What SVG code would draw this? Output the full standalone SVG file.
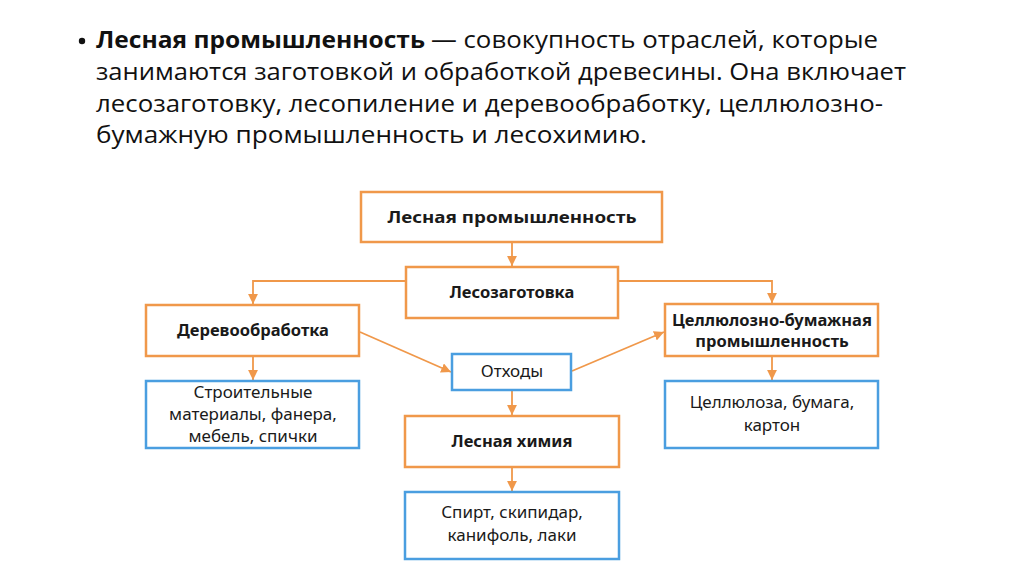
<svg xmlns="http://www.w3.org/2000/svg" width="1024" height="574" viewBox="0 0 1024 574">
<defs>
<style>
.hd{font-family:"Open Sans","Noto Sans",sans-serif;font-size:23px;fill:#111}
.hb{font-weight:bold}
.o{fill:#fff;stroke:#F0984A;stroke-width:2.5}
.b{fill:#fff;stroke:#4A9EE0;stroke-width:2.5}
.tb{font-family:"Noto Sans","Open Sans",sans-serif;font-size:16.5px;font-weight:bold;fill:#1a1a1a;text-anchor:middle}
.tr{font-family:"Noto Sans","Open Sans",sans-serif;font-size:17px;fill:#1a1a1a;text-anchor:middle}
.c{fill:none;stroke:#F0984A;stroke-width:1.8}
</style>
<marker id="ah" viewBox="0 0 10 10" refX="10" refY="5" markerWidth="5.5" markerHeight="5.5" orient="auto" markerUnits="strokeWidth">
<path d="M0,0 L10,5 L0,10 z" fill="#F0984A"/>
</marker>
</defs>
<rect width="1024" height="574" fill="#fff"/>
<g id="header">
<circle cx="82" cy="41" r="3.2" fill="#111"/>
<text class="hd hb" x="96" y="48" textLength="329" lengthAdjust="spacingAndGlyphs">Лесная промышленность</text>
<text class="hd" x="431" y="48" textLength="447" lengthAdjust="spacingAndGlyphs">— совокупность отраслей, которые</text>
<text class="hd" x="96" y="80" textLength="810" lengthAdjust="spacingAndGlyphs">занимаются заготовкой и обработкой древесины. Она включает</text>
<text class="hd" x="96" y="112" textLength="787" lengthAdjust="spacingAndGlyphs">лесозаготовку, лесопиление и деревообработку, целлюлозно-</text>
<text class="hd" x="96" y="143" textLength="551" lengthAdjust="spacingAndGlyphs">бумажную промышленность и лесохимию.</text>
</g>
<g id="connectors">
<line class="c" x1="512" y1="243" x2="512" y2="266" marker-end="url(#ah)"/>
<polyline class="c" points="406,281 253,281 253,304" marker-end="url(#ah)"/>
<polyline class="c" points="618,281 772,281 772,303" marker-end="url(#ah)"/>
<line class="c" x1="360" y1="332" x2="451" y2="372" marker-end="url(#ah)"/>
<line class="c" x1="572" y1="371" x2="664" y2="332" marker-end="url(#ah)"/>
<line class="c" x1="253" y1="357" x2="253" y2="380" marker-end="url(#ah)"/>
<line class="c" x1="512" y1="391" x2="512" y2="415" marker-end="url(#ah)"/>
<line class="c" x1="512" y1="468" x2="512" y2="491" marker-end="url(#ah)"/>
<line class="c" x1="772" y1="357" x2="772" y2="380" marker-end="url(#ah)"/>
</g>
<g id="n-les-prom">
<rect class="o" x="361" y="192" width="301" height="50"/>
<text class="tb" x="512" y="223" font-size="18" textLength="249" lengthAdjust="spacingAndGlyphs">Лесная промышленность</text>
</g>
<g id="n-lesozag">
<rect class="o" x="406" y="267" width="212" height="51"/>
<text class="tb" x="512" y="298">Лесозаготовка</text>
</g>
<g id="n-derevo">
<rect class="o" x="146" y="305" width="213" height="51"/>
<text class="tb" x="253" y="336">Деревообработка</text>
</g>
<g id="n-cbp">
<rect class="o" x="665" y="304" width="213" height="52"/>
<text class="tb" x="772" y="326">Целлюлозно-бумажная</text>
<text class="tb" x="772" y="347">промышленность</text>
</g>
<g id="n-othody">
<rect class="b" x="452" y="354" width="119" height="36"/>
<text class="tr" x="512" y="377" font-size="16">Отходы</text>
</g>
<g id="n-stroit">
<rect class="b" x="146" y="381" width="213" height="67"/>
<text class="tr" x="253" y="398">Строительные</text>
<text class="tr" x="253" y="420">материалы, фанера,</text>
<text class="tr" x="253" y="442">мебель, спички</text>
</g>
<g id="n-himiya">
<rect class="o" x="405" y="416" width="214" height="51"/>
<text class="tb" x="512" y="447">Лесная химия</text>
</g>
<g id="n-spirt">
<rect class="b" x="405" y="492" width="214" height="67"/>
<text class="tr" x="512" y="518">Спирт, скипидар,</text>
<text class="tr" x="512" y="541">канифоль, лаки</text>
</g>
<g id="n-cell">
<rect class="b" x="665" y="381" width="213" height="67"/>
<text class="tr" x="772" y="408">Целлюлоза, бумага,</text>
<text class="tr" x="772" y="431">картон</text>
</g>
</svg>
